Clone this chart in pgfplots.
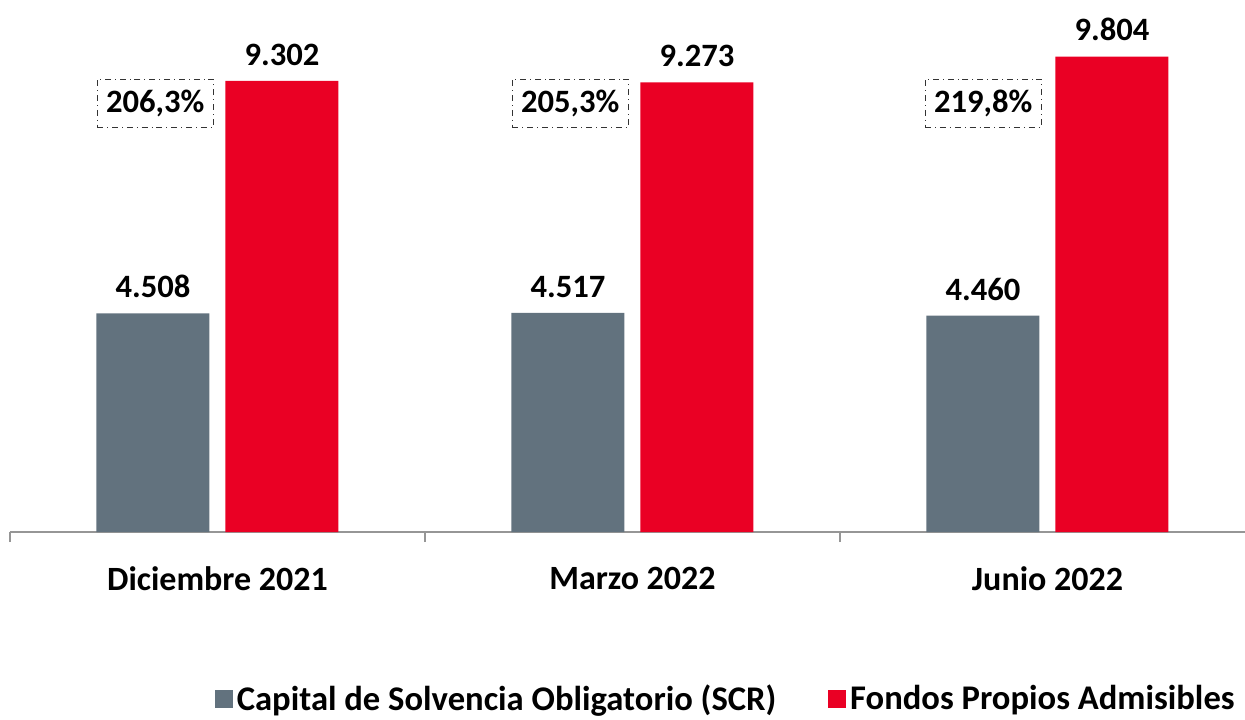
\documentclass[border=0pt]{standalone}
\usepackage{pgfplots}
\pgfplotsset{compat=1.18}
\usepackage{fontspec}
\setmainfont{Carlito}
\definecolor{scrgray}{RGB}{98,114,126}
\definecolor{fpred}{RGB}{234,0,36}
\definecolor{axgray}{RGB}{150,150,150}
\begin{document}
\begin{tikzpicture}
\begin{axis}[
  scale only axis, width=617.5pt, height=266pt,
  xmin=-0.5, xmax=2.476, ymin=0, ymax=10970,
  axis x line*=bottom, axis y line=none,
  x axis line style={axgray, line width=1pt},
  xtick={0,1,2}, major tick length=0pt,
  xticklabels={Diciembre 2021, Marzo 2022, Junio 2022},
  xticklabel style={font=\fontsize{17}{19}\selectfont\bfseries, yshift=-14pt},
  extra x ticks={-0.5,0.5,1.5,2.5}, extra x tick labels={},
  extra x tick style={tick align=outside, major tick length=5pt,
    tick style={axgray, line width=1pt}},
  ybar, bar width=56.5pt,
  nodes near coords, point meta=explicit symbolic,
  every node near coord/.append style={font=\fontsize{16.3}{18}\selectfont\bfseries,
    anchor=south, inner sep=0pt, yshift=7.5pt, text=black},
  legend style={at={(1,0)}, anchor=north east, yshift=-72pt, xshift=0pt,
    draw=none, legend columns=2, font=\fontsize{17.3}{19}\selectfont\bfseries,
    /tikz/every even column/.append style={column sep=24pt}},
  clip=false,
]
\addplot[fill=scrgray, draw=none, bar shift=-32.25pt,
  legend image code/.code={\fill[scrgray] (0pt,-4.5pt) rectangle (9pt,4.5pt);}]
  coordinates {(0,4508)[4.508] (1,4517)[4.517] (2,4460)[4.460]};
\addlegendentry{Capital de Solvencia Obligatorio (SCR)}
\addplot[fill=fpred, draw=none, bar shift=32.25pt,
  legend image code/.code={\fill[fpred] (0pt,-4.5pt) rectangle (9pt,4.5pt);}]
  coordinates {(0,9302)[9.302] (1,9273)[9.273] (2,9804)[9.804]};
\addlegendentry{Fondos Propios Admisibles}
\tikzset{pct/.style={draw=black!80, dash dot, line width=0.5pt, minimum width=58pt,
  minimum height=24pt, inner sep=1pt, font=\fontsize{16.3}{18}\selectfont\bfseries}}
\node[pct] at (axis cs:-0.15,8846) {206,3\%};
\node[pct] at (axis cs:0.85,8846) {205,3\%};
\node[pct] at (axis cs:1.845,8846) {219,8\%};
\end{axis}
\pgfresetboundingbox
\path (-5pt,-93.5pt) rectangle (617.5pt,266pt);
\end{tikzpicture}
\end{document}
